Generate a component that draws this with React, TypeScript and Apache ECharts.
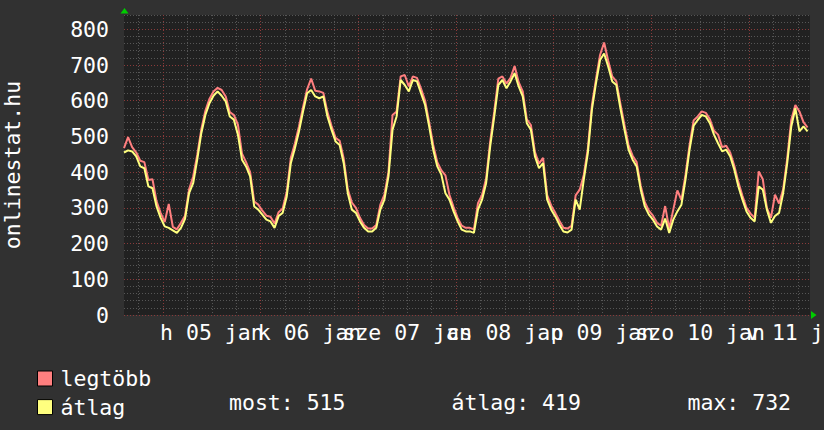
import React, { useEffect, useRef } from 'react';
import * as echarts from 'echarts';

// x values: hours relative to 5 jan 00:00
const START_H = -9.6;
const END_H = 159;

// hourly samples starting at START_H
const avgValues = [
  455, 461, 458, 444, 416, 411, 360, 355, 304, 272,
  248, 244, 237, 230, 244, 269, 341, 369, 435, 509,
  560, 593, 614, 626, 614, 598, 556, 547, 505, 435,
  416, 388, 304, 295, 281, 267, 262, 244, 277, 286,
  332, 425, 467, 514, 570, 621, 630, 612, 607, 612,
  556, 519, 486, 476, 425, 341, 295, 286, 262, 244,
  234, 234, 244, 295, 323, 388, 519, 556, 658, 644,
  626, 658, 654, 621, 588, 528, 463, 416, 393, 341,
  323, 290, 262, 239, 234, 234, 230, 295, 323, 369,
  472, 556, 644, 658, 635, 654, 677, 640, 612, 537,
  519, 444, 411, 425, 323, 295, 276, 253, 234, 231,
  239, 323, 295, 379, 453, 575, 649, 714, 732, 696,
  654, 644, 579, 519, 463, 435, 416, 351, 304, 281,
  267, 248, 239, 270, 230, 267, 290, 309, 379, 463,
  530, 546, 560, 556, 537, 505, 481, 458, 463, 444,
  407, 360, 323, 290, 272, 262, 360, 351, 295, 258,
  277, 286, 341, 425, 528, 579, 514, 528, 514,
];

const maxValues = [
  467, 498, 470, 455, 432, 428, 378, 380, 318, 286,
  260, 311, 247, 240, 258, 278, 352, 388, 448, 520,
  572, 605, 626, 636, 630, 612, 568, 560, 533, 452,
  428, 400, 318, 309, 292, 278, 275, 256, 288, 298,
  345, 440, 480, 528, 582, 632, 662, 628, 626, 622,
  568, 530, 496, 488, 438, 352, 315, 300, 272, 252,
  242, 242, 252, 309, 337, 400, 560, 570, 668, 672,
  640, 668, 664, 634, 600, 540, 476, 428, 405, 391,
  336, 302, 272, 250, 244, 244, 240, 313, 336, 382,
  486, 570, 662, 668, 648, 664, 697, 652, 626, 548,
  532, 456, 424, 440, 336, 306, 286, 264, 244, 242,
  250, 335, 351, 392, 466, 588, 660, 728, 763, 712,
  668, 654, 592, 532, 476, 446, 428, 362, 316, 292,
  278, 258, 250, 305, 242, 295, 349, 322, 392, 476,
  545, 556, 570, 566, 548, 516, 505, 470, 474, 454,
  418, 372, 334, 300, 284, 272, 402, 380, 300, 272,
  337, 312, 352, 438, 547, 588, 570, 540, 525,
];

const dayLabels = ['h 05', 'k 06', 'sze 07', 'cs 08', 'p 09', 'szo 10', 'v 11'];
const monthLabel = 'jan';
const seriesNames = ['legtöbb', 'átlag'];
const statLabels = ['most: 515', 'átlag: 419', 'max: 732'];
const yAxisTitle = 'onlinestat.hu';

const FONT = 'DejaVu Sans Mono';
const FS = 21.5;
const MINOR = '#565656';
const MAJOR = '#8a3a3a';

// grid positions (hours): every 6 h minor, every 24 h major, labels at noon
const minorHours: number[] = [];
for (let t = -6; t <= END_H; t += 6) if (t % 24 !== 0) minorHours.push(t);
const majorHours = dayLabels.map((_, i) => i * 24);
const noonHours = dayLabels.map((_, i) => i * 24 + 12);
const noonEven = noonHours.filter((_, i) => i % 2 === 0);
const noonOdd = noonHours.filter((_, i) => i % 2 === 1);

export default function App() {
  const ref = useRef<HTMLDivElement>(null);
  useEffect(() => {
    if (!ref.current) return;
    const chart = echarts.init(ref.current, null, { renderer: 'svg' });
    const toPairs = (arr: number[]) => arr.map((v, i) => [START_H + i, v]);
    const baseX = {
      type: 'value',
      position: 'bottom',
      min: START_H,
      max: END_H,
      axisLine: { show: false },
    };
    const labelAxis = (vals: number[]) => ({
      ...baseX,
      axisTick: { show: false, customValues: vals },
      splitLine: { show: false },
      axisLabel: {
        customValues: vals,
        showMinLabel: true,
        showMaxLabel: true,
        hideOverlap: false,
        color: '#fff',
        fontFamily: FONT,
        fontSize: FS,
        margin: 6,
        formatter: (v: number) => {
          const i = Math.round((v - 12) / 24);
          return dayLabels[i] ? `${dayLabels[i]} ${monthLabel}` : '';
        },
      },
    });
    const option: any = {
      animation: false,
      backgroundColor: '#313131',
      textStyle: { fontFamily: FONT },
      grid: {
        left: 124, right: 14, top: 15, bottom: 115,
        outerBoundsMode: 'none', containLabel: false,
        show: true, backgroundColor: '#212121', borderWidth: 0,
      },
      legend: {
        orient: 'vertical',
        left: 32,
        top: 361.5,
        itemWidth: 15,
        itemHeight: 15,
        itemGap: 4.6,
        icon: 'rect',
        itemStyle: { borderColor: '#000', borderWidth: 1 },
        textStyle: { color: '#fff', fontFamily: FONT, fontSize: FS, lineHeight: 24, padding: [0, 0, 0, 3] },
        data: seriesNames,
      },
      xAxis: [
        {
          ...baseX,
          axisTick: { show: false, customValues: minorHours },
          axisLabel: { show: false, customValues: minorHours },
          splitLine: { show: true, lineStyle: { color: MINOR, type: [1, 2], width: 1 } },
        },
        {
          ...baseX,
          axisTick: { show: false, customValues: majorHours },
          axisLabel: { show: false, customValues: majorHours },
          splitLine: { show: true, lineStyle: { color: MAJOR, type: [1, 2], width: 1 } },
        },
        labelAxis(noonEven),
        labelAxis(noonOdd),
      ],
      yAxis: {
        type: 'value',
        min: 0,
        max: 840,
        interval: 20,
        name: yAxisTitle,
        nameLocation: 'middle',
        nameGap: 101,
        nameTextStyle: { color: '#fff', fontFamily: FONT, fontSize: FS },
        axisLine: { show: false },
        axisTick: { show: false },
        axisLabel: {
          color: '#fff',
          fontFamily: FONT,
          fontSize: FS,
          margin: 15,
          formatter: (v: number) => (v % 100 === 0 ? String(v) : ''),
        },
        splitLine: { show: true, lineStyle: { color: [MAJOR, MINOR, MINOR, MINOR, MINOR], type: [1, 2], width: 1 } },
      },
      series: [
        {
          name: seriesNames[0],
          type: 'line',
          xAxisIndex: 0,
          data: toPairs(maxValues),
          showSymbol: false,
          color: '#ff7f7f',
          lineStyle: { width: 2, color: '#ff7f7f' },
          z: 2,
        },
        {
          name: seriesNames[1],
          type: 'line',
          xAxisIndex: 0,
          data: toPairs(avgValues),
          showSymbol: false,
          color: '#ffff7f',
          lineStyle: { width: 2, color: '#ffff7f' },
          z: 3,
        },
      ],
      graphic: [
        { type: 'polygon', shape: { points: [[120.5, 13.5], [128.5, 13.5], [124.5, 8]] }, style: { fill: '#00cc00' } },
        { type: 'polygon', shape: { points: [[811, 311], [811, 319], [816.5, 315]] }, style: { fill: '#00cc00' } },
        ...statLabels.map((t, i) => ({
          type: 'text',
          x: [229, 451.5, 687.5][i],
          y: 402,
          style: { text: t, fill: '#fff', fontFamily: FONT, fontSize: FS, verticalAlign: 'middle', align: 'left' },
        })),
      ],
    };
    chart.setOption(option);
    return () => chart.dispose();
  }, []);
  return <div ref={ref} style={{ position: 'fixed', left: 0, top: 0, width: 824, height: 430 }} />;
}
